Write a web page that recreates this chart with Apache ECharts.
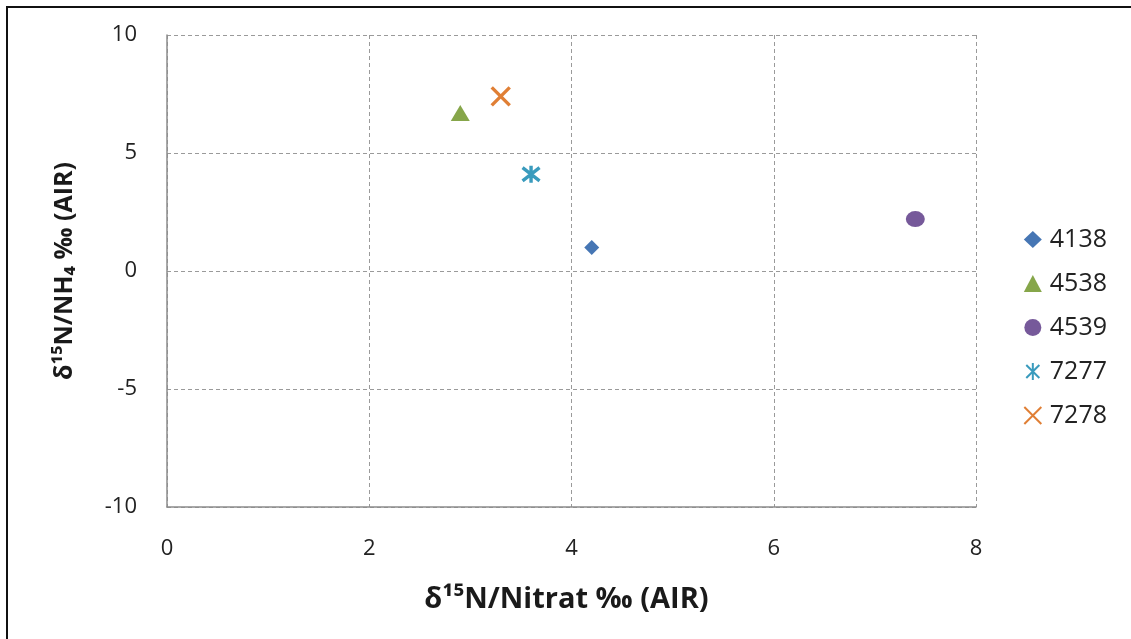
<!DOCTYPE html>
<html>
<head>
<meta charset="utf-8">
<script src="https://cdn.jsdelivr.net/npm/echarts@6/dist/echarts.min.js"></script>
<style>
  html, body { margin: 0; padding: 0; background: #fff; }
  #chart { width: 1131px; height: 639px; }
</style>
</head>
<body>
<div id="chart"></div>
<script>
// Sample IDs and their δ15N values (nitrate on x, ammonium on y)
const sampleNames = ['4138', '4538', '4539', '7277', '7278'];
const nitrateValues = [4.2, 2.9, 7.4, 3.6, 3.3];
const ammoniumValues = [1.0, 6.7, 2.2, 4.1, 7.4];

const xTicks = [0, 2, 4, 6, 8];
const yTicks = [-10, -5, 0, 5, 10];

// Marker appearance per sample
const markerStyles = [
  { symbol: 'diamond', size: 15, color: '#4676b4' },
  { symbol: 'triangle', size: [19, 16], color: '#86a64a' },
  { symbol: 'circle', size: [19, 16], color: '#76599a' },
  { symbol: 'path://M0,0L10,10M10,0L0,10M5,-1.5L5,11.5', size: 17, stroke: '#3a9bbd' },
  { symbol: 'path://M0,0L10,10M10,0L0,10', size: 18, stroke: '#e07f35' }
];

const chart = echarts.init(document.getElementById('chart'));

const series = sampleNames.map((name, i) => {
  const m = markerStyles[i];
  const itemStyle = m.stroke
    ? { color: 'transparent', borderColor: m.stroke, borderWidth: 3.4, opacity: 1 }
    : { color: m.color, opacity: 1 };
  return {
    name: name,
    type: 'scatter',
    symbol: m.symbol,
    symbolSize: m.size,
    itemStyle: itemStyle,
    data: [[nitrateValues[i], ammoniumValues[i]]]
  };
});

const gridLine = { show: true, lineStyle: { color: '#9a9a9a', type: [4, 3], width: 1 } };
const tickFont = { fontFamily: 'Open Sans', fontSize: 22, color: '#222' };
const titleFont = { fontFamily: 'Open Sans', fontWeight: 'bold', color: '#1a1a1a' };

chart.setOption({
  animation: false,
  backgroundColor: '#fff',
  graphic: [{
    type: 'rect',
    shape: { x: 7, y: 7, width: 1200, height: 700 },
    style: { fill: 'none', stroke: '#111', lineWidth: 2 },
    silent: true
  }],
  grid: { left: 167, top: 35, right: 155, bottom: 132, containLabel: false },
  legend: {
    orient: 'vertical',
    right: 19,
    top: 222,
    itemGap: 19,
    itemWidth: 18,
    itemHeight: 17,
    textStyle: { fontFamily: 'Open Sans', fontSize: 25, lineHeight: 25, color: '#222', padding: [0, 0, 0, 3] },
    data: sampleNames
  },
  xAxis: {
    type: 'value',
    min: 0,
    max: 8,
    interval: 2,
    name: 'δ¹⁵N/Nitrat ‰ (AIR)',
    nameLocation: 'middle',
    nameGap: 78,
    nameTextStyle: Object.assign({ fontSize: 29, padding: [0, 10, 0, 0] }, titleFont),
    axisLine: { show: true, onZero: false, lineStyle: { color: '#8c8c8c', width: 1.5 } },
    axisTick: { show: false },
    axisLabel: Object.assign({ margin: 31, formatter: v => xTicks.includes(v) ? String(v) : '' }, tickFont),
    splitLine: gridLine
  },
  yAxis: {
    type: 'value',
    min: -10,
    max: 10,
    interval: 5,
    name: 'δ¹⁵N/NH₄ ‰ (AIR)',
    nameLocation: 'middle',
    nameGap: 90,
    nameRotate: 90,
    nameTextStyle: Object.assign({ fontSize: 25 }, titleFont),
    axisLine: { show: true, onZero: false, lineStyle: { color: '#8c8c8c', width: 1.5 } },
    axisTick: { show: false },
    axisLabel: Object.assign({ margin: 30, formatter: v => yTicks.includes(v) ? String(v) : '' }, tickFont),
    splitLine: gridLine
  },
  series: series
});
</script>
</body>
</html>
